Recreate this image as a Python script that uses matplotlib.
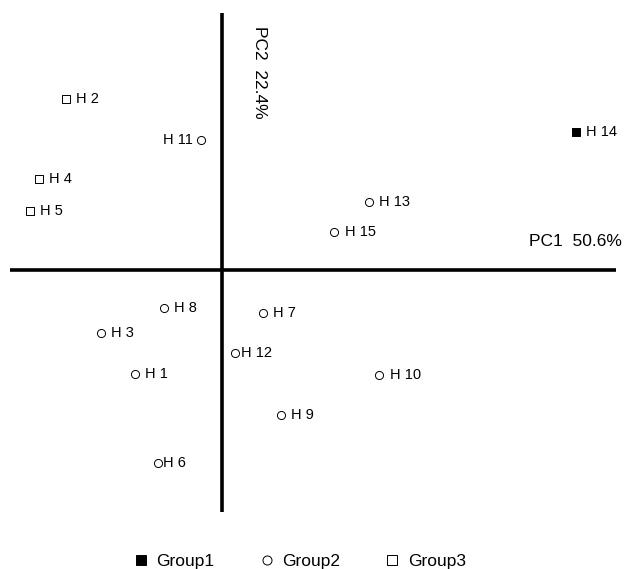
import numpy as np
import matplotlib.pyplot as plt
from matplotlib.lines import Line2D

plt.rcParams['font.family'] = ['Liberation Sans', 'DejaVu Sans']

# --- DATA (PCA scores) ---
SAMPLES = ["H 1", "H 2", "H 3", "H 4", "H 5", "H 6", "H 7", "H 8",
           "H 9", "H 10", "H 11", "H 12", "H 13", "H 14", "H 15"]
PC1 = [-1.45, -2.60, -2.02, -3.05, -3.20, -1.07, 0.68, -0.97,
       0.98, 2.62, -0.35, 0.22, 2.45, 5.90, 1.87]
PC2 = [-1.73, 2.85, -1.05, 1.52, 0.98, -3.22, -0.72, -0.63,
       -2.42, -1.75, 2.17, -1.38, 1.13, 2.30, 0.63]
GROUP = [2, 3, 2, 3, 3, 2, 2, 2, 2, 2, 2, 2, 2, 1, 2]
PC1_VAR = "PC1  50.6%"
PC2_VAR = "PC2  22.4%"
GROUP_NAMES = ["Group1", "Group2", "Group3"]

# marker style per group
STYLE = {
    1: dict(marker='s', facecolor='black'),
    2: dict(marker='o', facecolor='white'),
    3: dict(marker='s', facecolor='white'),
}
# label placement: default to the right, a few to the left / tight
LEFT_LABELS = {"H 11"}
TIGHT_LABELS = {"H 12", "H 6"}


def main():
    fig = plt.figure(figsize=(6.24, 5.69), dpi=100)
    ax = fig.add_axes([0, 0, 1, 1])
    ax.set_xlim(-3.70, 6.70)
    ax.set_ylim(-4.98, 4.50)
    ax.axis('off')

    # axes through origin
    ax.plot([-3.53, 6.57], [0, 0], color='black', linewidth=2.6, solid_capstyle='butt')
    ax.plot([0, 0], [-4.03, 4.28], color='black', linewidth=2.6, solid_capstyle='butt')

    for name, x, y, g in zip(SAMPLES, PC1, PC2, GROUP):
        st = STYLE[g]
        ax.scatter(x, y, marker=st['marker'], s=34, facecolors=st['facecolor'],
                   edgecolors='black', linewidths=0.7, zorder=3)
        if name in LEFT_LABELS:
            ax.annotate(name, (x, y), xytext=(-5.5, 0), textcoords='offset points',
                        ha='right', va='center', fontsize=10.5)
        else:
            off = 4 if name in TIGHT_LABELS else 7.5
            ax.annotate(name, (x, y), xytext=(off, 0), textcoords='offset points',
                        ha='left', va='center', fontsize=10.5)

    ax.text(6.67, 0.47, PC1_VAR, ha='right', va='center', fontsize=12.5)
    ax.text(0.62, 3.30, PC2_VAR, ha='center', va='center', rotation=-90, fontsize=12.5)

    handles = []
    for g, name in zip([1, 2, 3], GROUP_NAMES):
        st = STYLE[g]
        handles.append(Line2D([], [], linestyle='none', marker=st['marker'],
                              markerfacecolor=st['facecolor'], markeredgecolor='black',
                              markeredgewidth=0.7, markersize=6.5, label=name))
    fig.legend(handles=handles, loc='lower center', bbox_to_anchor=(0.482, -0.028),
               ncol=3, frameon=False, fontsize=12.5, handlelength=0.6,
               handletextpad=0.6, columnspacing=2.7)

    fig.savefig('out.png', dpi=100)


if __name__ == '__main__':
    main()
